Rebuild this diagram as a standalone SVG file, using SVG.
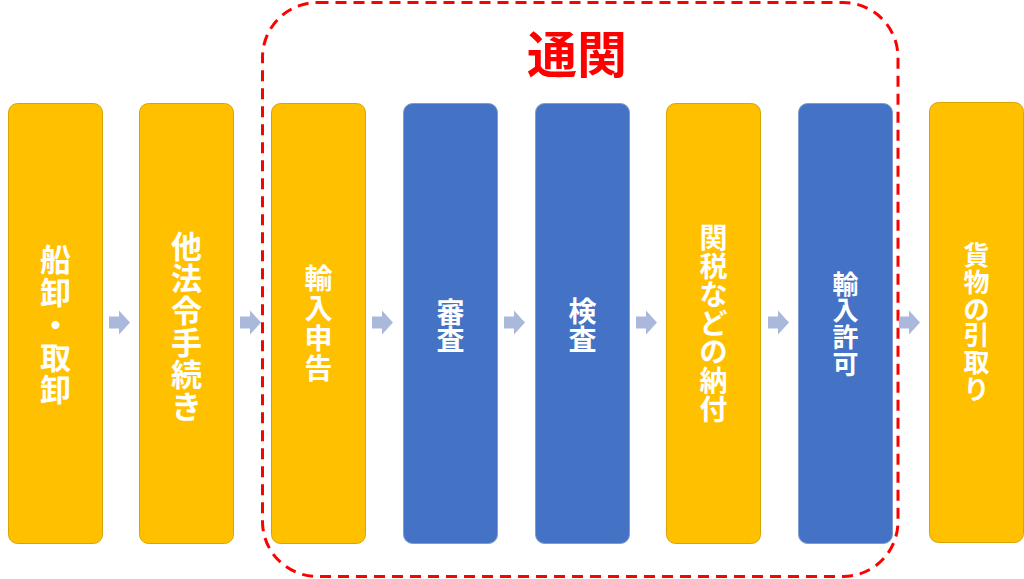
<svg xmlns="http://www.w3.org/2000/svg" width="1024" height="579" viewBox="0 0 1024 579">
<defs>
<style>
.y{fill:#FFC000;stroke:#D9A400;stroke-width:1}
.b{fill:#4472C4;stroke:#7F9BD0;stroke-width:1}
.t{fill:#FFFFFF;font-family:"Noto Sans CJK JP","Noto Sans CJK SC",sans-serif;font-weight:bold;text-anchor:middle;dominant-baseline:central}
.a{fill:#AAB8DC}
.title{fill:#FF0000;font-family:"Noto Sans CJK JP","Noto Sans CJK SC",sans-serif;font-weight:bold;font-size:50px;text-anchor:middle;dominant-baseline:central}
</style>
</defs>
<rect width="1024" height="579" fill="#FFFFFF"/>
<g id="tsukan">
<rect x="262.5" y="2.5" width="635.5" height="574" rx="55" ry="55" fill="none" stroke="#FF0000" stroke-width="3" stroke-dasharray="11 7"/>
<text class="title" x="577" y="51">通関</text>
</g>
<g id="n1">
<rect class="y" x="8.5" y="103.5" width="94" height="440" rx="9"/>
<text class="t" font-size="31"><tspan x="55.5" y="257">船</tspan><tspan x="55.5" y="289.5">卸</tspan><tspan x="55.5" y="322">・</tspan><tspan x="55.5" y="354.5">取</tspan><tspan x="55.5" y="387">卸</tspan></text>
</g>
<g id="n2">
<rect class="y" x="139.5" y="103.5" width="94" height="440" rx="9"/>
<text class="t" font-size="31"><tspan x="186.5" y="244">他</tspan><tspan x="186.5" y="276">法</tspan><tspan x="186.5" y="308">令</tspan><tspan x="186.5" y="340">手</tspan><tspan x="186.5" y="372">続</tspan><tspan x="186.5" y="404">き</tspan></text>
</g>
<g id="n3">
<rect class="y" x="271.5" y="103.5" width="94" height="440" rx="9"/>
<text class="t" font-size="28"><tspan x="318.5" y="277">輸</tspan><tspan x="318.5" y="307">入</tspan><tspan x="318.5" y="337">申</tspan><tspan x="318.5" y="367">告</tspan></text>
</g>
<g id="n4">
<rect class="b" x="403.5" y="103.5" width="94" height="440" rx="9"/>
<text class="t" font-size="28"><tspan x="450.5" y="311">審</tspan><tspan x="450.5" y="338">査</tspan></text>
</g>
<g id="n5">
<rect class="b" x="535.5" y="103.5" width="94" height="440" rx="9"/>
<text class="t" font-size="28"><tspan x="582.5" y="310">検</tspan><tspan x="582.5" y="338">査</tspan></text>
</g>
<g id="n6">
<rect class="y" x="666.5" y="103.5" width="94" height="440" rx="9"/>
<text class="t" font-size="28"><tspan x="713.5" y="236">関</tspan><tspan x="713.5" y="264.6">税</tspan><tspan x="713.5" y="293.2">な</tspan><tspan x="713.5" y="321.8">ど</tspan><tspan x="713.5" y="350.4">の</tspan><tspan x="713.5" y="379">納</tspan><tspan x="713.5" y="407.6">付</tspan></text>
</g>
<g id="n7">
<rect class="b" x="798.5" y="103.5" width="94" height="440" rx="9"/>
<text class="t" font-size="26"><tspan x="845.5" y="281.5">輸</tspan><tspan x="845.5" y="308.2">入</tspan><tspan x="845.5" y="334.9">許</tspan><tspan x="845.5" y="361.6">可</tspan></text>
</g>
<g id="n8">
<rect class="y" x="929.5" y="102.5" width="94" height="440" rx="9"/>
<text class="t" font-size="26"><tspan x="976.5" y="253.3">貨</tspan><tspan x="976.5" y="280">物</tspan><tspan x="976.5" y="306.7">の</tspan><tspan x="976.5" y="333.4">引</tspan><tspan x="976.5" y="360.1">取</tspan><tspan x="976.5" y="386.8">り</tspan></text>
</g>
<g id="connectors">
<path class="a" d="M0,-6 H10 V-12 L21,0 L10,12 V6 H0 Z" transform="translate(109,322.5)"/>
<path class="a" d="M0,-6 H10 V-12 L21,0 L10,12 V6 H0 Z" transform="translate(240,322.5)"/>
<path class="a" d="M0,-6 H10 V-12 L21,0 L10,12 V6 H0 Z" transform="translate(372,322.5)"/>
<path class="a" d="M0,-6 H10 V-12 L21,0 L10,12 V6 H0 Z" transform="translate(504,322.5)"/>
<path class="a" d="M0,-6 H10 V-12 L21,0 L10,12 V6 H0 Z" transform="translate(636,322.5)"/>
<path class="a" d="M0,-6 H10 V-12 L21,0 L10,12 V6 H0 Z" transform="translate(768,322.5)"/>
<path class="a" d="M0,-6 H10 V-12 L21,0 L10,12 V6 H0 Z" transform="translate(899,322.5)"/>
</g>
</svg>
